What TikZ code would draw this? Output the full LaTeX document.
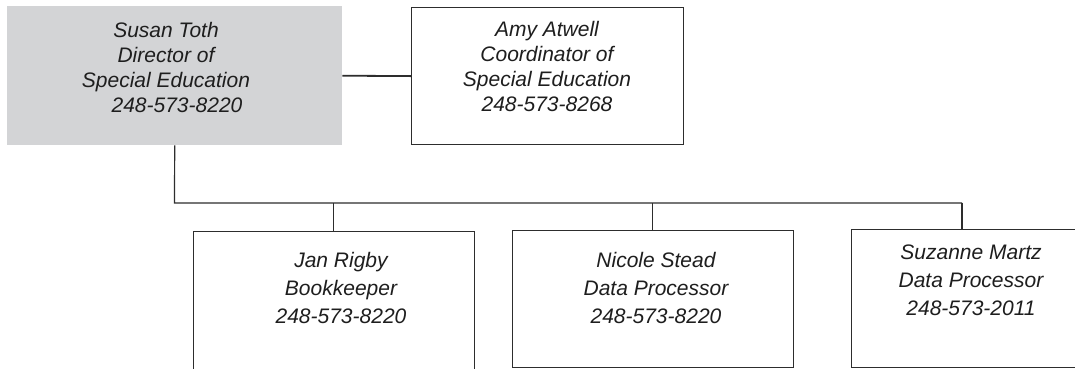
\documentclass[tikz,border=0pt]{standalone}
\usepackage{fontspec}
\setmainfont{Liberation Sans}
\definecolor{boxgray}{RGB}{211,212,214}
\definecolor{linecol}{RGB}{45,45,45}
\definecolor{txtcol}{RGB}{30,30,30}
\tikzset{
  orgbox/.style={draw=linecol, line width=1.2pt, fill=white, rectangle, inner sep=0pt, anchor=north west},
  headbox/.style={fill=boxgray, rectangle, inner sep=0pt, anchor=north west},
  toptext/.style={font=\fontsize{21}{25}\selectfont\itshape, text=txtcol, align=center, inner sep=0pt, anchor=north},
  bottext/.style={font=\fontsize{21}{28}\selectfont\itshape, text=txtcol, align=center, inner sep=0pt, anchor=north},
  conn/.style={draw=linecol, line width=1.2pt},
  thickconn/.style={draw=linecol, line width=1.8pt}
}
\begin{document}
\begin{tikzpicture}[x=1pt,y=-1pt]
\useasboundingbox (0,0) rectangle (1075,368);
\clip (0,0) rectangle (1075,368);
\fill[white] (0,0) rectangle (1075,368);
% boxes
\node[headbox, minimum width=335pt, minimum height=139pt] (s) at (7,6) {};
\node[orgbox, minimum width=272pt, minimum height=137pt] (a) at (411,7) {};
\node[orgbox, minimum width=281pt, minimum height=150pt] (j) at (193,231) {};
\node[orgbox, minimum width=281pt, minimum height=137pt] (n) at (512,230) {};
\node[orgbox, minimum width=240pt, minimum height=138pt] (z) at (851,229) {};
% texts
\node[toptext] (st) at (166,21.7) {Susan Toth\\Director of\\Special Education\\\hspace*{22pt}248-573-8220};
\node[toptext] (at) at (547,20.7) {Amy Atwell\\Coordinator of\\Special Education\\248-573-8268};
\node[bottext] (jt) at (341,252) {Jan Rigby\\Bookkeeper\\248-573-8220};
\node[bottext] (nt) at (656,252) {Nicole Stead\\Data Processor\\248-573-8220};
\node[bottext] (zt) at (971,245) {Suzanne Martz\\Data Processor\\248-573-2011};
% connectors
\coordinate (trunk) at (174.5,203);
\coordinate (bj) at (333.5,203);
\coordinate (bn) at (652.5,203);
\coordinate (bz) at (962,203);
\draw[thickconn] (s.east) -- (a.west);
\draw[conn] (s.south) -- (trunk) -- (bz);
\draw[conn] (bj) -- (bj |- j.north);
\draw[conn] (bn) -- (bn |- n.north);
\draw[conn] (bz) -- (bz |- z.north);
\end{tikzpicture}
\end{document}
